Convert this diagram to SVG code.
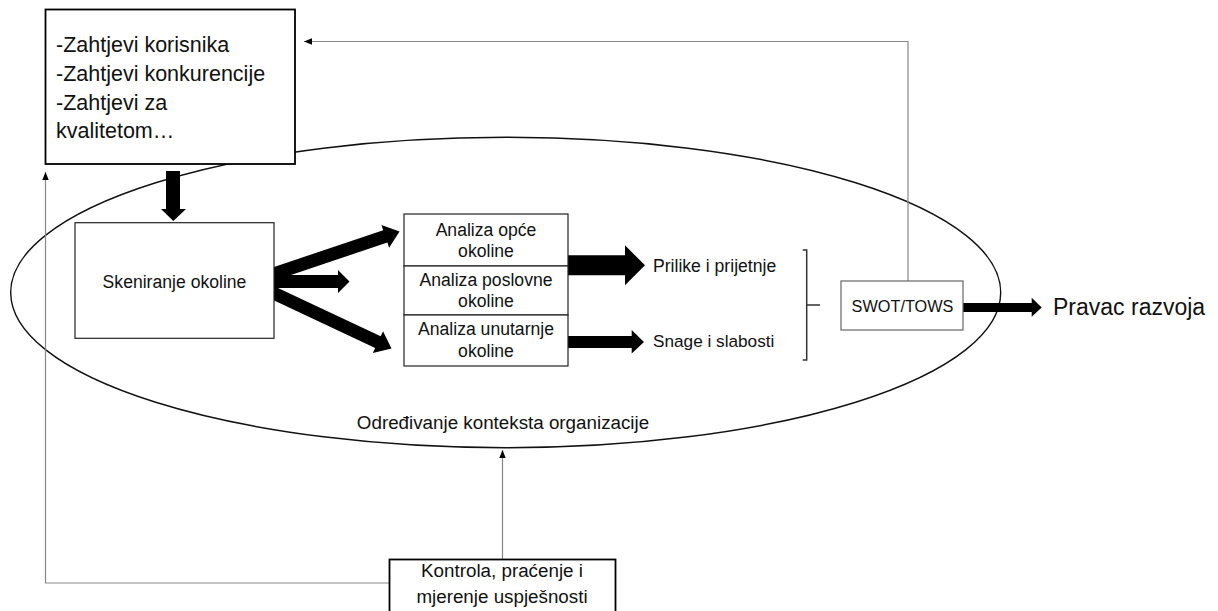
<svg xmlns="http://www.w3.org/2000/svg" width="1218" height="611" viewBox="0 0 1218 611">
<style>
text{font-family:"Liberation Sans",Arial,sans-serif;fill:#111}
.box{fill:#fff;stroke:#222;stroke-width:1.2}
.boxb{fill:#fff;stroke:#000;stroke-width:1.8}
.boxg{fill:#fff;stroke:#666;stroke-width:1.2}
.conn{fill:none;stroke:#888;stroke-width:1.2}
.fat{fill:#000}
.m{font-size:17.6px;text-anchor:middle}
</style>
<defs>
<marker id="ah" viewBox="0 0 10 8" refX="10" refY="4" markerWidth="8" markerHeight="6.5" markerUnits="userSpaceOnUse" orient="auto"><path d="M0,0 L10,4 L0,8 Z" fill="#000"/></marker>
</defs>
<rect width="1218" height="611" fill="#fff"/>
<g id="context">
<ellipse cx="505.7" cy="292.5" rx="495" ry="155.2" fill="none" stroke="#111" stroke-width="1.4"/>
<text x="503" y="429" style="font-size:18.8px;text-anchor:middle">Određivanje konteksta organizacije</text>
</g>
<g id="connectors">
<polyline class="conn" points="908,281 908,41.5 304,41.5" marker-end="url(#ah)"/>
<polyline class="conn" points="389,583 45.5,583 45.5,172" marker-end="url(#ah)"/>
<line class="conn" x1="502.5" y1="559" x2="502.5" y2="450" marker-end="url(#ah)"/>
<polygon class="fat" points="166,171 180,171 180,209 186,209 173.3,221 161,209 166,209"/>
<polygon class="fat" points="252.08,288.16 387.37,242.46 389.13,247.67 399.5,231.5 381.45,224.93 383.21,230.14 247.92,275.84"/>
<polygon class="fat" points="250,275 338,275 338,270 349.5,281.5 338,293 338,288 250,288"/>
<polygon class="fat" points="247.24,287.88 375.16,348 372.82,352.98 391.5,348.5 383.02,331.26 380.68,336.24 252.76,276.12"/>
<polygon class="fat" points="568,255.3 625,255.3 625,245.3 645,265.3 625,285.3 625,275.3 568,275.3"/>
<polygon class="fat" points="568,336 631.7,336 631.7,330 644,342 631.7,353.5 631.7,348 568,348"/>
<polygon class="fat" points="963,303 1031.7,303 1031.7,297.7 1041.7,307.5 1031.7,316.7 1031.7,312 963,312"/>
<path d="M802.7,250 H806.7 V360 H802.7 M806.7,305 H820" fill="none" stroke="#333" stroke-width="1.5"/>
</g>
<g id="requirements">
<rect class="boxb" x="45.5" y="9.5" width="249.5" height="154.5"/>
<text x="56" y="52.3" style="font-size:21.5px">-Zahtjevi korisnika</text>
<text x="56" y="81" style="font-size:21.5px">-Zahtjevi konkurencije</text>
<text x="56" y="109.7" style="font-size:21.5px">-Zahtjevi za</text>
<text x="56" y="138.4" style="font-size:21.5px">kvalitetom…</text>
</g>
<g id="scanning">
<rect class="box" x="75" y="222.7" width="199" height="115.6"/>
<text class="m" x="174.5" y="287.5">Skeniranje okoline</text>
</g>
<g id="analysis-general">
<rect class="box" x="404" y="214" width="164" height="52"/>
<text class="m" x="486" y="235.7">Analiza opće</text>
<text class="m" x="486" y="257">okoline</text>
</g>
<g id="analysis-business">
<rect class="box" x="404" y="266" width="164" height="49"/>
<text class="m" x="486" y="285.5">Analiza poslovne</text>
<text class="m" x="486" y="307.3">okoline</text>
</g>
<g id="analysis-internal">
<rect class="box" x="404" y="315" width="164" height="51"/>
<text class="m" x="486" y="334.5">Analiza unutarnje</text>
<text class="m" x="486" y="356.7">okoline</text>
</g>
<g id="opportunities">
<text x="653" y="271.7" style="font-size:17.6px">Prilike i prijetnje</text>
</g>
<g id="strengths">
<text x="653" y="346.7" style="font-size:17.2px">Snage i slabosti</text>
</g>
<g id="swot">
<rect class="boxg" x="841" y="281" width="122" height="49"/>
<text x="902.5" y="312" style="font-size:16.3px;text-anchor:middle">SWOT/TOWS</text>
</g>
<g id="direction">
<text x="1053" y="315" style="font-size:23px">Pravac razvoja</text>
</g>
<g id="control">
<rect class="boxb" x="389.5" y="559.5" width="226" height="60"/>
<text x="502" y="577" style="font-size:18.8px;text-anchor:middle">Kontrola, praćenje i</text>
<text x="502" y="603" style="font-size:18.8px;text-anchor:middle">mjerenje uspješnosti</text>
</g>
</svg>
